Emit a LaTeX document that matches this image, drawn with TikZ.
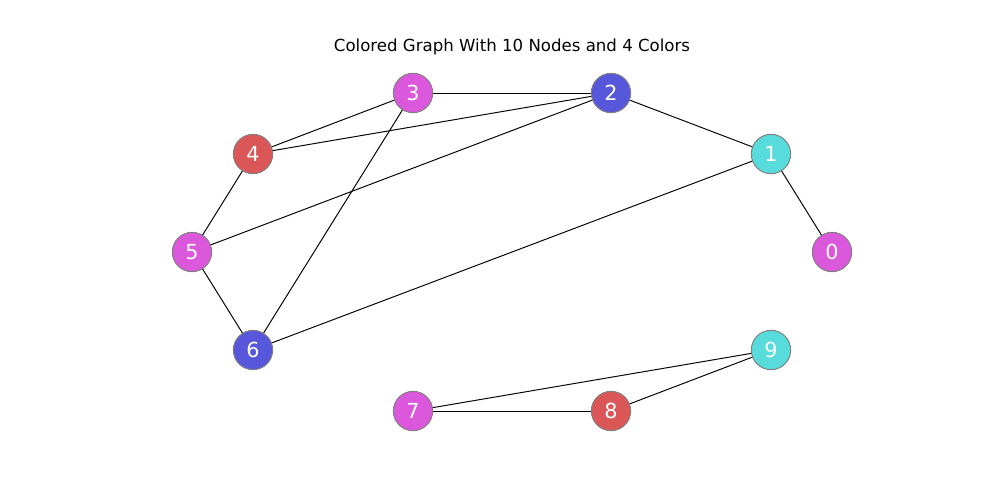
\documentclass[tikz,border=0pt]{standalone}
\usepackage{fontspec}
\setmainfont{DejaVu Sans}
\usepackage{tikz}
\definecolor{cred}{HTML}{DB5757}
\definecolor{cblue}{HTML}{5757DB}
\definecolor{cmag}{HTML}{DB57DB}
\definecolor{ccyan}{HTML}{57DBDB}
\tikzset{vert/.style={circle, draw=gray, line width=0.7pt, minimum size=1cm, inner sep=0pt,
  text=white, font=\fontsize{15}{15}\selectfont}}

\begin{document}
\begin{tikzpicture}[x=0.0254cm, y=-0.0254cm]
\useasboundingbox (0,0) rectangle (1000,500);
\node at (512,47) {\fontsize{12}{12}\selectfont Colored Graph With 10 Nodes and 4 Colors};
\node[vert, fill=cmag]  (n0) at (832,252) {0};
\node[vert, fill=ccyan] (n1) at (771,154) {1};
\node[vert, fill=cblue] (n2) at (611,93)  {2};
\node[vert, fill=cmag]  (n3) at (413,93)  {3};
\node[vert, fill=cred]  (n4) at (253,154) {4};
\node[vert, fill=cmag]  (n5) at (192,252) {5};
\node[vert, fill=cblue] (n6) at (253,350) {6};
\node[vert, fill=cmag]  (n7) at (413,411) {7};
\node[vert, fill=cred]  (n8) at (611,411) {8};
\node[vert, fill=ccyan] (n9) at (771,350) {9};
\path[line width=0.7pt]
(n3) edge (n2)
     edge (n4)
     edge (n6)
(n2) edge (n4)
     edge (n5)
     edge (n1)
(n1) edge (n0)
     edge (n6)
(n5) edge (n4)
     edge (n6)
(n7) edge (n8)
     edge (n9)
(n8) edge (n9);
\end{tikzpicture}
\end{document}
